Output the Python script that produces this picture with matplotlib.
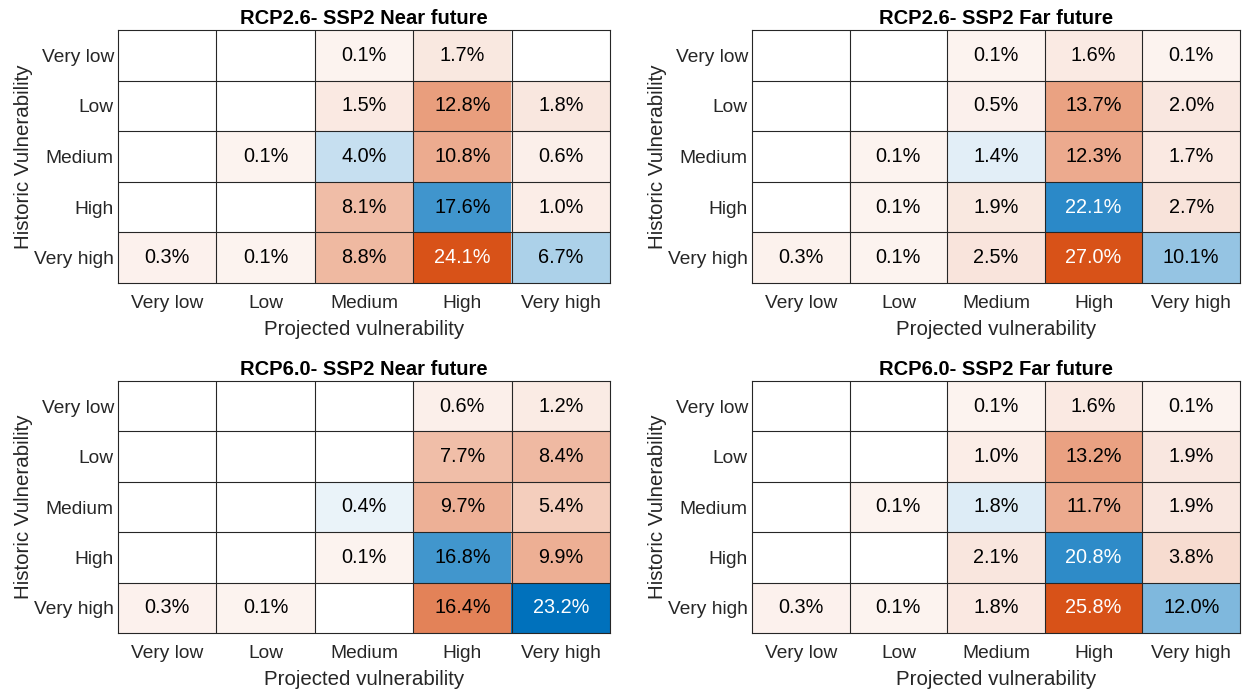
import numpy as np
import matplotlib
matplotlib.use("Agg")
import matplotlib.pyplot as plt

plt.rcParams['font.family'] = ['Liberation Sans', 'DejaVu Sans']

categories = ["Very low", "Low", "Medium", "High", "Very high"]
titles = ["RCP2.6- SSP2 Near future", "RCP2.6- SSP2 Far future",
          "RCP6.0- SSP2 Near future", "RCP6.0- SSP2 Far future"]

rcp26_near = [[0, 0, 0.1, 1.7, 0],
              [0, 0, 1.5, 12.8, 1.8],
              [0, 0.1, 4.0, 10.8, 0.6],
              [0, 0, 8.1, 17.6, 1.0],
              [0.3, 0.1, 8.8, 24.1, 6.7]]
rcp26_far = [[0, 0, 0.1, 1.6, 0.1],
             [0, 0, 0.5, 13.7, 2.0],
             [0, 0.1, 1.4, 12.3, 1.7],
             [0, 0.1, 1.9, 22.1, 2.7],
             [0.3, 0.1, 2.5, 27.0, 10.1]]
rcp60_near = [[0, 0, 0, 0.6, 1.2],
              [0, 0, 0, 7.7, 8.4],
              [0, 0, 0.4, 9.7, 5.4],
              [0, 0, 0.1, 16.8, 9.9],
              [0.3, 0.1, 0, 16.4, 23.2]]
rcp60_far = [[0, 0, 0.1, 1.6, 0.1],
             [0, 0, 1.0, 13.2, 1.9],
             [0, 0.1, 1.8, 11.7, 1.9],
             [0, 0, 2.1, 20.8, 3.8],
             [0.3, 0.1, 1.8, 25.8, 12.0]]
matrices = [rcp26_near, rcp26_far, rcp60_near, rcp60_far]

BLUE = np.array([0.0, 0.447, 0.741])
ORANGE = np.array([0.85, 0.325, 0.098])
TXT = '#262626'

W, H = 1249, 697
fig = plt.figure(figsize=(W / 100, H / 100), dpi=100)
boxes = [(118, 30, 610, 283), (752, 30, 1240, 283),
         (118, 381, 610, 633), (752, 381, 1240, 633)]

for m, title, (x0, y0, x1, y1) in zip(matrices, titles, boxes):
    ax = fig.add_axes([x0 / W, 1 - y1 / H, (x1 - x0) / W, (y1 - y0) / H])
    d = np.array(m, dtype=float)
    n = d.shape[0]
    mx = d.max()
    rgb = np.ones((n, n, 3))
    for i in range(n):
        for j in range(n):
            if d[i, j] <= 0:
                continue
            f = min(1.0, 0.065 + 0.935 * d[i, j] / mx)
            base = BLUE if i == j else ORANGE
            c = 1 - f * (1 - base)
            rgb[i, j] = c
            lum = 0.2126 * c[0] + 0.7152 * c[1] + 0.0722 * c[2]
            tc = 'white' if lum < 0.5 else 'black'
            ax.text(j, i, f"{d[i, j]:.1f}%", ha='center', va='center',
                    fontsize=14.3, color=tc)
    ax.imshow(rgb, aspect='auto', interpolation='nearest')
    for k in range(1, n):
        ax.axhline(k - 0.5, color=TXT, lw=0.8)
        ax.axvline(k - 0.5, color=TXT, lw=0.8)
    ax.set_xlim(-0.5, n - 0.5)
    ax.set_ylim(n - 0.5, -0.5)
    ax.set_xticks(range(n))
    ax.set_yticks(range(n))
    ax.set_xticklabels(categories, fontsize=13.8, color=TXT)
    ax.set_yticklabels(categories, fontsize=13.8, color=TXT)
    ax.tick_params(axis='x', length=0, pad=8.5)
    ax.tick_params(axis='y', length=0, pad=3)
    for s in ax.spines.values():
        s.set_color(TXT)
        s.set_linewidth(0.8)
    ax.set_xlabel("Projected vulnerability", fontsize=14.8, color=TXT, labelpad=6)
    ax.set_ylabel("Historic Vulnerability", fontsize=14.8, color=TXT, labelpad=1)
    ax.set_title(title, fontsize=14.5, fontweight='bold', pad=4)

fig.savefig("out.png", dpi=100)
